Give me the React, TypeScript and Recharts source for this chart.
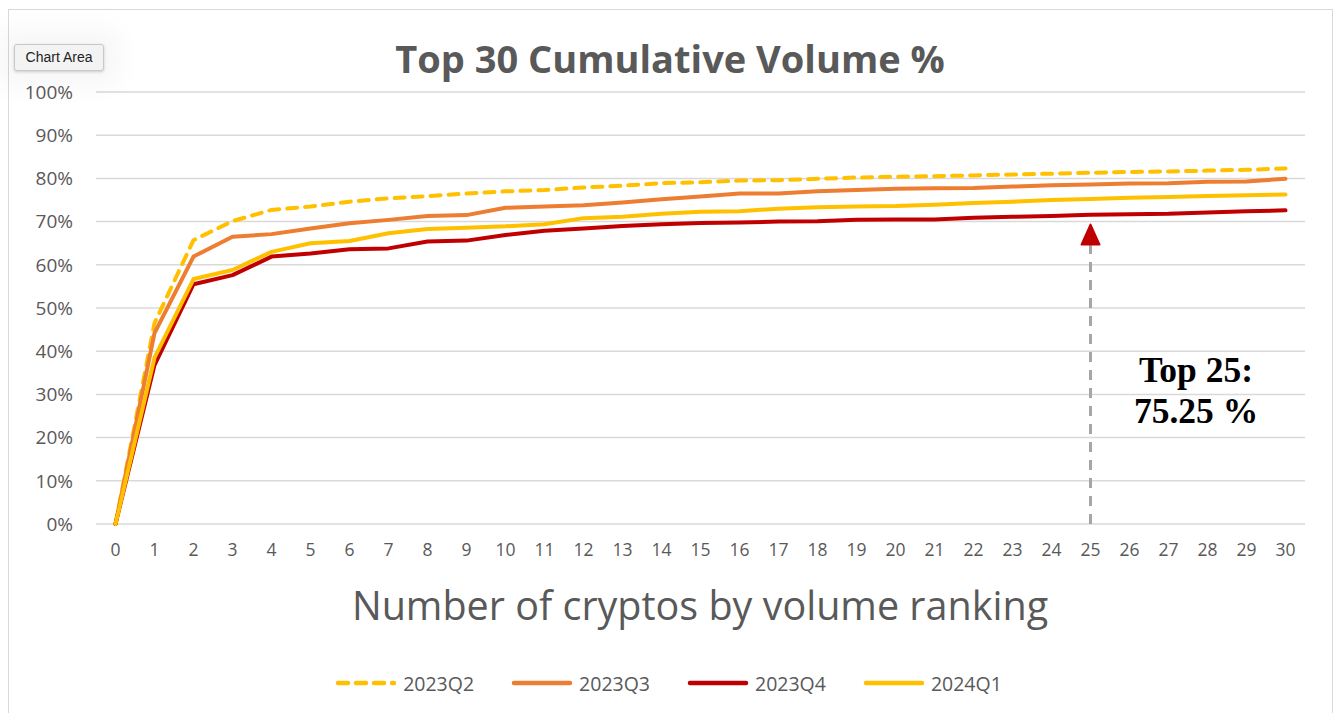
import React from "react";
import {
  CartesianGrid,
  Line,
  LineChart,
  ReferenceDot,
  ReferenceLine,
  XAxis,
  YAxis,
} from "recharts";

const ranks = [0, 1, 2, 3, 4, 5, 6, 7, 8, 9, 10, 11, 12, 13, 14, 15, 16, 17, 18, 19, 20, 21, 22, 23, 24, 25, 26, 27, 28, 29, 30];

const q2_2023 = [0, 46.5, 65.7, 70.1, 72.7, 73.5, 74.6, 75.4, 75.9, 76.5, 77.0, 77.3, 77.9, 78.3, 78.9, 79.1, 79.5, 79.6, 79.9, 80.2, 80.4, 80.5, 80.7, 80.9, 81.1, 81.3, 81.5, 81.6, 81.8, 82.0, 82.3];
const q3_2023 = [0, 44.2, 61.9, 66.5, 67.1, 68.4, 69.6, 70.4, 71.3, 71.5, 73.2, 73.5, 73.8, 74.4, 75.2, 75.8, 76.5, 76.5, 77.0, 77.3, 77.6, 77.7, 77.8, 78.1, 78.4, 78.6, 78.8, 78.9, 79.2, 79.3, 79.9];
const q4_2023 = [0, 36.8, 55.5, 57.6, 61.9, 62.6, 63.6, 63.8, 65.4, 65.6, 66.9, 67.9, 68.4, 69.0, 69.4, 69.7, 69.8, 70.0, 70.1, 70.4, 70.5, 70.5, 70.9, 71.1, 71.3, 71.6, 71.7, 71.8, 72.1, 72.4, 72.6];
const q1_2024 = [0, 38.5, 56.7, 58.8, 63.0, 65.0, 65.5, 67.3, 68.3, 68.6, 68.9, 69.4, 70.8, 71.1, 71.8, 72.3, 72.4, 73.0, 73.3, 73.5, 73.6, 73.9, 74.3, 74.6, 75.0, 75.25, 75.5, 75.7, 75.9, 76.1, 76.3];

const yTicks = [0, 10, 20, 30, 40, 50, 60, 70, 80, 90, 100];

const series = [
  { key: "q2", name: "2023Q2", color: "#FFC000", dash: "10 8" },
  { key: "q3", name: "2023Q3", color: "#ED7D31", dash: undefined },
  { key: "q4", name: "2023Q4", color: "#C00000", dash: undefined },
  { key: "q1", name: "2024Q1", color: "#FFC000", dash: undefined },
];

const data = ranks.map((r, i) => ({
  rank: r,
  q2: q2_2023[i],
  q3: q3_2023[i],
  q4: q4_2023[i],
  q1: q1_2024[i],
}));

const grey = "#595959";
const font = "'Open Sans', sans-serif";

function Arrowhead(props: { cx?: number; cy?: number }) {
  const { cx = 0, cy = 0 } = props;
  return (
    <path
      d={`M ${cx} ${cy - 10} L ${cx + 9} ${cy + 10} L ${cx - 9} ${cy + 10} Z`}
      fill="#C00000"
      stroke="#C00000"
      strokeWidth={2}
      strokeLinejoin="round"
    />
  );
}

export default function App() {
  return (
    <div style={{ position: "relative", width: 1333, height: 713, overflow: "hidden", background: "#fff", fontFamily: font }}>
      <style>{"body{margin:0}"}</style>
      <div
        style={{
          position: "absolute",
          left: 8,
          top: 9,
          width: 1323,
          height: 800,
          border: "1.5px solid #D9D9D9",
        }}
      />
      <div
        style={{
          position: "absolute",
          left: 0,
          top: 33,
          width: 1340,
          textAlign: "center",
          fontSize: 38,
          fontWeight: 700,
          color: grey,
          lineHeight: "50px",
        }}
      >
        Top 30 Cumulative Volume %
      </div>

      <div style={{ position: "absolute", left: 0, top: 0 }}>
        <LineChart width={1333} height={713} data={data} margin={{ top: 92, right: 28, left: 16, bottom: 159 }}>
          <CartesianGrid vertical={false} stroke="#D9D9D9" strokeWidth={1.5} />
          <XAxis
            dataKey="rank"
            type="number"
            domain={[-0.5, 30.5]}
            ticks={ranks}
            interval={0}
            height={30}
            axisLine={false}
            tickLine={false}
            tickMargin={14}
            tick={{ fill: grey, fontSize: 17.5, fontFamily: font }}
          />
          <YAxis
            domain={[0, 100]}
            ticks={yTicks}
            width={80}
            axisLine={false}
            tickLine={false}
            tickMargin={17}
            tickFormatter={(v: number) => `${v}%`}
            tick={{ fill: grey, fontSize: 19, fontFamily: font }}
          />
          <ReferenceLine
            segment={[
              { x: 25, y: 0 },
              { x: 25, y: 64.5 },
            ]}
            stroke="#A6A6A6"
            strokeWidth={3}
            strokeDasharray="10 8"
          />
          <ReferenceDot x={25} y={67} r={10} shape={(p: any) => <Arrowhead {...p} />} />
          {series.map((s) => (
            <Line
              key={s.key}
              dataKey={s.key}
              name={s.name}
              type="linear"
              stroke={s.color}
              strokeWidth={4}
              strokeDasharray={s.dash}
              strokeLinecap="round"
              strokeLinejoin="round"
              dot={false}
              activeDot={false}
              isAnimationActive={false}
            />
          ))}
        </LineChart>
      </div>

      <div
        style={{
          position: "absolute",
          left: 1096,
          top: 350,
          width: 200,
          textAlign: "center",
          fontFamily: "'Liberation Serif', 'Times New Roman', serif",
          fontWeight: 700,
          fontSize: 35.5,
          lineHeight: "41px",
          color: "#000",
        }}
      >
        Top 25:
        <br />
        75.25 %
      </div>

      <div
        style={{
          position: "absolute",
          left: 200,
          top: 578,
          width: 1000,
          textAlign: "center",
          fontSize: 39.5,
          color: grey,
          lineHeight: "54px",
        }}
      >
        Number of cryptos by volume ranking
      </div>

      <div
        style={{
          position: "absolute",
          left: 0,
          top: 669,
          width: 1337,
          display: "flex",
          justifyContent: "center",
          gap: 37,
          fontSize: 19.5,
          color: grey,
        }}
      >
        {series.map((s) => (
          <div key={s.key} style={{ display: "flex", alignItems: "center", gap: 6 }}>
            <svg width={62} height={28}>
              <line
                x1={3}
                x2={59}
                y1={14}
                y2={14}
                stroke={s.color}
                strokeWidth={4.5}
                strokeLinecap="round"
                strokeDasharray={s.dash}
              />
            </svg>
            <span>{s.name}</span>
          </div>
        ))}
      </div>

      <div
        style={{
          position: "absolute",
          left: 14,
          top: 44,
          width: 88,
          height: 25,
          background: "#F3F3F3",
          border: "1px solid #C9C9C9",
          borderRadius: 3,
          boxShadow: "0 1px 3px rgba(0,0,0,0.18), 0 0 26px 16px rgba(0,0,0,0.035)",
          fontFamily: "'Liberation Sans', Arial, sans-serif",
          fontSize: 14,
          color: "#222",
          textAlign: "center",
          lineHeight: "25px",
        }}
      >
        Chart Area
      </div>
    </div>
  );
}
